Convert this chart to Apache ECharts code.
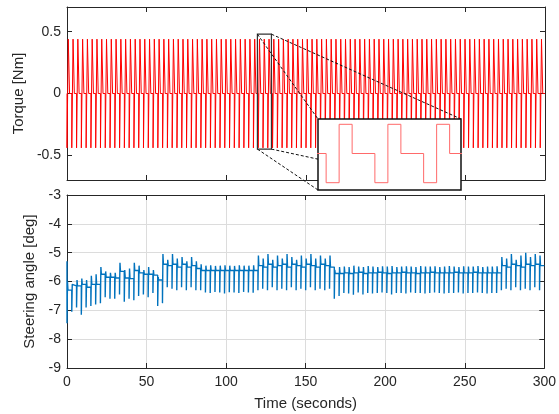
<!DOCTYPE html>
<html>
<head>
<meta charset="utf-8">
<script src="https://cdn.jsdelivr.net/npm/echarts@6/dist/echarts.min.js"></script>
<style>html,body{margin:0;padding:0;background:#fff;}#c{width:559px;height:414px;}</style>
</head>
<body>
<div id="c"></div>
<script>
// ---- data ----
const xTicks = [0, 50, 100, 150, 200, 250, 300];
const torqueTicks = [-0.5, 0, 0.5];
const steerTicks = [-9, -8, -7, -6, -5, -4, -3];
// start time (s) of each torque test pulse
const pulseTimes = [0,3,6,9,12,15,18,21,24,27,30,33,36,39,42,45,48,51,54,57,
  60,63,66,69,72,75,78,81,84,87,90,93,96,99,102,105,108,111,114,117,
  120,123,126,129,132,135,138,141,144,147,150,153,156,159,162,165,168,171,174,177,
  180,183,186,189,192,195,198,201,204,207,210,213,216,219,222,225,228,231,234,237,
  240,243,246,249,252,255,258,261,264,267,270,273,276,279,282,285,288,291,294,297];
// shape of one pulse: time offsets (s) and torque level (Nm) from that offset on
const pulseOffsets = [0, 0.8, 1.6];
const pulseLevels = [-0.44, 0.44, 0];
// steering response to a pulse: time offsets (s) of its min, max and settled level
const steerOffsets = [0, 0.3, 0.6];
// steering angle (deg): value at t=0, then per pulse: min, max, settled level
const steerStart = -5.3;
const steerLo = [
-7.45,-7.05,-6.90,-7.15,-6.90,-6.85,-6.80,-6.75,-6.55,-6.60,
-6.60,-6.45,-6.70,-6.60,-6.65,-6.50,-6.45,-6.55,-6.40,-6.85,
-6.75,-6.20,-6.25,-6.30,-6.20,-6.30,-6.20,-6.30,-6.30,-6.38,
-6.40,-6.36,-6.38,-6.42,-6.37,-6.38,-6.40,-6.36,-6.38,-6.39,
-6.30,-6.25,-6.30,-6.20,-6.30,-6.25,-6.30,-6.20,-6.30,-6.25,
-6.30,-6.20,-6.30,-6.25,-6.30,-6.25,-6.60,-6.50,-6.40,-6.42,
-6.46,-6.38,-6.45,-6.40,-6.42,-6.40,-6.38,-6.40,-6.45,-6.40,
-6.40,-6.42,-6.38,-6.40,-6.40,-6.42,-6.40,-6.38,-6.40,-6.42,
-6.40,-6.40,-6.38,-6.42,-6.40,-6.40,-6.38,-6.40,-6.42,-6.40,
-6.40,-6.30,-6.25,-6.30,-6.20,-6.30,-6.25,-6.30,-6.20,-6.30];
const steerHi = [
-6.00,-6.10,-5.95,-5.90,-5.95,-5.80,-5.75,-5.50,-5.65,-5.70,
-5.70,-5.35,-5.60,-5.55,-5.35,-5.45,-5.60,-5.50,-5.60,-5.85,
-5.05,-5.25,-5.05,-5.20,-5.15,-5.30,-5.15,-5.30,-5.40,-5.45,
-5.44,-5.46,-5.45,-5.44,-5.45,-5.46,-5.44,-5.45,-5.45,-5.44,
-5.10,-5.20,-5.05,-5.25,-5.10,-5.20,-5.05,-5.15,-5.25,-5.10,
-5.20,-5.05,-5.20,-5.10,-5.20,-5.10,-5.60,-5.50,-5.48,-5.50,
-5.45,-5.48,-5.50,-5.46,-5.48,-5.50,-5.47,-5.48,-5.46,-5.50,
-5.48,-5.47,-5.48,-5.50,-5.46,-5.48,-5.48,-5.47,-5.50,-5.48,
-5.46,-5.48,-5.50,-5.47,-5.48,-5.48,-5.46,-5.50,-5.48,-5.48,
-5.47,-5.15,-5.20,-5.05,-5.25,-5.10,-5.00,-5.15,-5.05,-5.10];
const steerBase = [
-6.30,-6.15,-6.15,-6.10,-6.20,-6.10,-6.10,-5.75,-5.85,-5.85,
-5.88,-5.65,-5.88,-5.90,-5.62,-5.70,-5.75,-5.75,-5.78,-5.95,
-5.40,-5.45,-5.40,-5.50,-5.40,-5.50,-5.45,-5.55,-5.62,-5.62,
-5.62,-5.62,-5.62,-5.62,-5.62,-5.62,-5.62,-5.62,-5.62,-5.62,
-5.45,-5.50,-5.40,-5.50,-5.45,-5.40,-5.50,-5.40,-5.45,-5.50,
-5.40,-5.45,-5.50,-5.40,-5.45,-5.50,-5.72,-5.72,-5.70,-5.72,
-5.70,-5.68,-5.72,-5.70,-5.70,-5.68,-5.70,-5.72,-5.70,-5.70,
-5.68,-5.70,-5.70,-5.72,-5.70,-5.70,-5.68,-5.70,-5.70,-5.70,
-5.70,-5.68,-5.70,-5.70,-5.70,-5.68,-5.70,-5.70,-5.70,-5.70,
-5.70,-5.45,-5.50,-5.40,-5.45,-5.50,-5.40,-5.45,-5.40,-5.45];
// zoomed window shown in the inset: time range and torque range
const zoomTime = [119.5, 128.3];
const zoomTorque = [-0.45, 0.48];
const tEnd = 300;

// ---- build series ----
const torqueData = [[0, 0]];
pulseTimes.forEach(t0 => {
  let prev = torqueData[torqueData.length - 1][1];
  pulseOffsets.forEach((off, i) => {
    torqueData.push([t0 + off, prev]);
    torqueData.push([t0 + off, pulseLevels[i]]);
    prev = pulseLevels[i];
  });
});
torqueData.push([tEnd, 0]);

const steerData = [[0, steerStart]];
pulseTimes.forEach((t0, k) => {
  const lv = [steerLo[k], steerHi[k], steerBase[k]];
  let p = steerData[steerData.length - 1][1];
  steerOffsets.forEach((off, i) => {
    steerData.push([t0 + off, p]);
    steerData.push([t0 + off, lv[i]]);
    p = lv[i];
  });
});
steerData.push([tEnd, steerBase[steerBase.length - 1]]);

// ---- chart ----
const FONT = "'Liberation Sans', Arial, Helvetica, sans-serif";
const AX = '#262626';
const GRIDC = '#dcdcdc';
const insetBox = {left: 318, top: 119, width: 143, height: 71};

function boxAxis(extra) {
  return Object.assign({
    axisLine: {show: true, onZero: false, lineStyle: {color: AX, width: 1}},
    axisTick: {show: true, inside: true, length: 5, lineStyle: {color: AX}},
    axisLabel: {show: false},
    splitLine: {show: false}
  }, extra);
}

const chart = echarts.init(document.getElementById('c'), null, {renderer: 'canvas'});
const option = {
  animation: false,
  backgroundColor: '#fff',
  textStyle: {fontFamily: FONT},
  grid: [
    {left: 67, right: 14, top: 7, height: 173},
    {left: 67, right: 14, top: 195, height: 173},
    Object.assign({show: true, backgroundColor: '#fff', borderColor: '#111', borderWidth: 1.5, z: 10}, insetBox)
  ],
  xAxis: [
    boxAxis({type: 'value', gridIndex: 0, min: 0, max: tEnd, interval: 50, position: 'bottom'}),
    boxAxis({type: 'value', gridIndex: 0, min: 0, max: tEnd, interval: 50, position: 'top'}),
    boxAxis({type: 'value', gridIndex: 1, min: 0, max: tEnd, interval: 50, position: 'bottom',
      axisLabel: {show: true, color: AX, fontSize: 14, margin: 7, fontFamily: FONT,
        customValues: xTicks},
      splitLine: {show: true, lineStyle: {color: GRIDC, width: 1}},
      name: 'Time (seconds)', nameLocation: 'middle', nameGap: 28,
      nameTextStyle: {color: AX, fontSize: 15, fontFamily: FONT}}),
    boxAxis({type: 'value', gridIndex: 1, min: 0, max: tEnd, interval: 50, position: 'top'}),
    {type: 'value', gridIndex: 2, min: zoomTime[0], max: zoomTime[1], show: false}
  ],
  yAxis: [
    boxAxis({type: 'value', gridIndex: 0, min: -0.7, max: 0.7, position: 'left',
      axisTick: {show: true, inside: true, length: 5, lineStyle: {color: AX}, customValues: torqueTicks},
      axisLabel: {show: true, color: AX, fontSize: 14, margin: 6, fontFamily: FONT, customValues: torqueTicks},
      name: 'Torque [Nm]', nameLocation: 'middle', nameGap: 30,
      nameTextStyle: {color: AX, fontSize: 15, fontFamily: FONT}}),
    boxAxis({type: 'value', gridIndex: 0, min: -0.7, max: 0.7, position: 'right',
      axisTick: {show: true, inside: true, length: 5, lineStyle: {color: AX}, customValues: torqueTicks}}),
    boxAxis({type: 'value', gridIndex: 1, min: -9, max: -3, interval: 1, position: 'left',
      axisLabel: {show: true, color: AX, fontSize: 14, margin: 6, fontFamily: FONT, customValues: steerTicks},
      splitLine: {show: true, lineStyle: {color: GRIDC, width: 1}},
      name: 'Steering angle [deg]', nameLocation: 'middle', nameGap: 21,
      nameTextStyle: {color: AX, fontSize: 15, fontFamily: FONT}}),
    boxAxis({type: 'value', gridIndex: 1, min: -9, max: -3, interval: 1, position: 'right'}),
    {type: 'value', gridIndex: 2, min: -0.55, max: 0.52, show: false}
  ],
  series: [
    {type: 'line', xAxisIndex: 0, yAxisIndex: 0, data: torqueData, showSymbol: false, symbol: 'none',
      lineStyle: {color: '#ff0000', width: 1}, z: 2},
    {type: 'line', xAxisIndex: 2, yAxisIndex: 2, data: steerData, showSymbol: false, symbol: 'none',
      lineStyle: {color: '#0072BD', width: 1.4}, z: 2},
    {type: 'line', xAxisIndex: 4, yAxisIndex: 4, data: torqueData, showSymbol: false, symbol: 'none',
      lineStyle: {color: '#ff6a6a', width: 1}, z: 11, clip: true}
  ]
};
chart.setOption(option);

// zoom marker + connector lines, positioned from the main axis scale
const tl = chart.convertToPixel({gridIndex: 0}, [zoomTime[0], zoomTorque[1]]);
const br = chart.convertToPixel({gridIndex: 0}, [zoomTime[1], zoomTorque[0]]);
const ib = {x1: insetBox.left, y1: insetBox.top, x2: insetBox.left + insetBox.width, y2: insetBox.top + insetBox.height};
const dash = {stroke: '#111', lineWidth: 1, lineDash: [3, 2]};
chart.setOption({
  graphic: [
    {type: 'rect', z: 5, shape: {x: tl[0], y: tl[1], width: br[0] - tl[0], height: br[1] - tl[1]},
      style: {fill: 'rgba(0,0,0,0)', stroke: '#333', lineWidth: 1.2}},
    {type: 'line', z: 5, shape: {x1: tl[0], y1: tl[1], x2: ib.x1, y2: ib.y1}, style: dash},
    {type: 'line', z: 5, shape: {x1: br[0], y1: tl[1], x2: ib.x2, y2: ib.y1}, style: dash},
    {type: 'line', z: 5, shape: {x1: tl[0], y1: br[1], x2: ib.x1, y2: ib.y2}, style: dash},
    {type: 'line', z: 5, shape: {x1: br[0], y1: br[1], x2: ib.x2, y2: ib.y2}, style: dash}
  ]
});
</script>
</body>
</html>
